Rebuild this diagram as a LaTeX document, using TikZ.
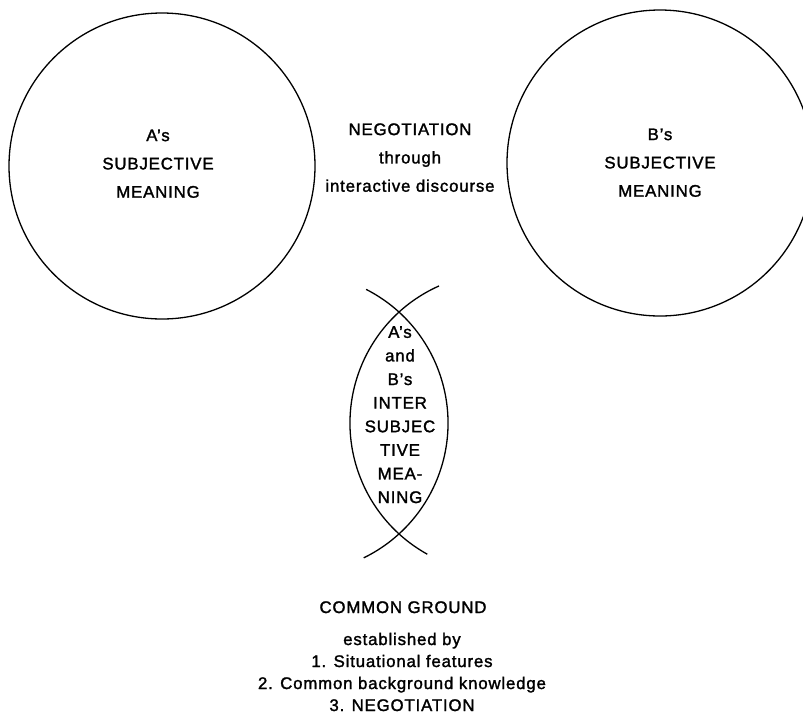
\documentclass[tikz,border=0pt]{standalone}
\usepackage{fontspec}
\setmainfont{Liberation Sans}[LetterSpace=5, FakeBold=1.6]
\begin{document}
\begin{tikzpicture}[x=1pt,y=1pt,
  ring/.style={circle, draw, line width=1.3pt, inner sep=0pt, minimum size=306pt},
  arcline/.style={line width=1.3pt},
  lbl/.style={align=center, inner sep=0pt, anchor=base, font=\fontsize{16.8}{28.3}\selectfont},
  lenslbl/.style={align=center, inner sep=0pt, anchor=base, font=\fontsize{16.8}{23.6}\selectfont},
  foot/.style={align=center, inner sep=0pt, anchor=base, font=\fontsize{16.8}{22}\selectfont}]
\useasboundingbox (0,0) rectangle (803,-716);

% subjective meanings
\node[ring] (A) at (162,-166) {};
\node[ring] (B) at (660,-163) {};
\node[lbl] (Atxt) at (158,-197.7) {A’s\\SUBJECTIVE\\MEANING};
\node[lbl] (Btxt) at (660,-196.7) {B’s\\SUBJECTIVE\\MEANING};

% negotiation
\node[lbl] (neg) at (410,-191.7) {NEGOTIATION\\through\\interactive discourse};

% intersubjective lens
\coordinate (lc) at (500,-423);
\coordinate (rc) at (298,-423);
\draw[arcline] ([shift={(114:150)}]lc) arc[start angle=114, end angle=241, radius=150];
\draw[arcline] ([shift={(63:150)}]rc) arc[start angle=63, end angle=-64, radius=150];
\node[lenslbl] (lens) at (400,-503) {A’s\\and\\B’s\\INTER\\SUBJEC\\TIVE\\MEA-\\NING};

% common ground
\node[lbl] (cg) at (403,-613) {COMMON GROUND};
\node[foot] (est) at (402,-711) {established by\\1. Situational features\\2. Common background knowledge\\3. NEGOTIATION};
\end{tikzpicture}
\end{document}
